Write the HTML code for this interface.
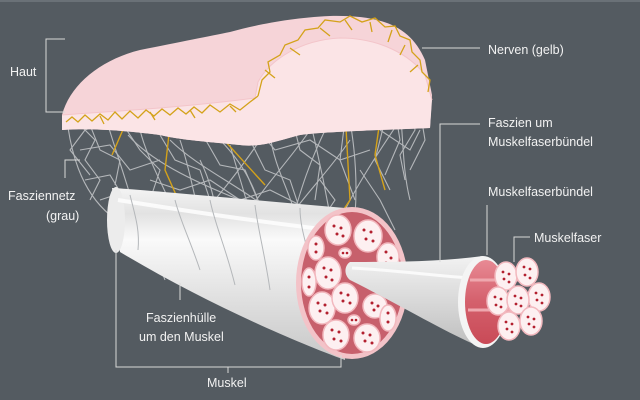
<!DOCTYPE html>
<html><head><meta charset="utf-8"><style>
html,body{margin:0;padding:0;background:#545b61;}
svg{display:block;}
text{font-family:"Liberation Sans",sans-serif;font-size:12.5px;fill:#f2f2f2;}
</style></head><body>
<svg width="640" height="400" viewBox="0 0 640 400" xmlns="http://www.w3.org/2000/svg">
<rect width="640" height="400" fill="#545b61"/>
<rect width="640" height="2" fill="#6a7177"/>
<defs>
<linearGradient id="tube" x1="0" y1="0" x2="0" y2="1">
<stop offset="0" stop-color="#f4f4f4"/><stop offset="0.15" stop-color="#e2e2e2"/><stop offset="0.3" stop-color="#fafafa"/><stop offset="0.7" stop-color="#dcdcdc"/><stop offset="1" stop-color="#c8c8c8"/>
</linearGradient>
<linearGradient id="cone" x1="0" y1="0" x2="0" y2="1">
<stop offset="0" stop-color="#f2f2f2"/><stop offset="0.5" stop-color="#d8d8d8"/><stop offset="1" stop-color="#bdbdbd"/>
</linearGradient>
<linearGradient id="red" x1="0" y1="0" x2="0" y2="1">
<stop offset="0" stop-color="#e88a94"/><stop offset="0.5" stop-color="#d4606c"/><stop offset="1" stop-color="#c94a57"/>
</linearGradient>
</defs>

<!-- fascia network -->
<g fill="none" stroke="#b4b7ba" stroke-width="1.1">
<path d="M66 112 C70 150 80 190 110 215"/>
<path d="M75 120 L95 140 L85 160 L100 180 L90 200"/>
<path d="M90 125 L100 150 L120 160 L115 185"/>
<path d="M105 115 C115 150 130 190 140 230"/>
<path d="M120 120 L140 150 L160 170 L150 200 L170 225"/>
<path d="M80 150 L110 145 L130 170 L160 160"/>
<path d="M140 130 C150 170 175 200 190 260"/>
<path d="M160 135 L175 160 L200 170 L210 200 L230 215"/>
<path d="M180 140 C190 170 195 200 205 240"/>
<path d="M200 130 L220 165 L245 170 L260 205"/>
<path d="M230 145 C240 180 250 210 260 250"/>
<path d="M250 140 L265 170 L290 180 L300 210"/>
<path d="M270 135 C275 170 290 190 300 230"/>
<path d="M290 110 L300 150 L320 165 L315 200"/>
<path d="M300 80 C310 120 320 160 330 215"/>
<path d="M320 60 L325 100 L345 120 L340 160 L355 200"/>
<path d="M340 60 C345 100 360 150 355 215"/>
<path d="M360 60 L370 100 L385 120 L375 160 L390 190"/>
<path d="M375 75 L395 110 L400 140 L385 175"/>
<path d="M395 80 C405 120 400 160 410 200"/>
<path d="M410 90 L415 130 L400 155 L405 180"/>
<path d="M420 110 L425 140 L410 170"/>
<path d="M100 200 L130 190 L160 210 L190 195 L220 215"/>
<path d="M150 180 L180 190 L210 180 L240 200 L270 190 L300 205"/>
<path d="M250 120 L275 150 L310 140 L340 160 L370 150"/>
<path d="M270 100 L300 120 L330 100 L360 115 L390 95"/>
<path d="M160 230 C190 220 230 225 260 245"/>
<path d="M110 120 L85 130 L70 150 L90 175"/>
<path d="M200 160 C220 200 215 230 230 270"/>
<path d="M220 140 C240 160 270 200 265 260"/>
<path d="M330 120 C310 160 300 190 290 230"/>
<path d="M360 170 L380 200 L395 230"/>
<path d="M145 240 C150 255 160 265 165 280"/>
<path d="M180 240 C185 260 190 270 200 280"/>
<path d="M235 235 C240 255 245 265 255 285"/>
<path d="M128 135 C150 160 190 180 240 200"/>
<path d="M170 140 C200 170 250 190 280 220"/>
<path d="M260 140 C240 170 215 200 190 230"/>
<path d="M310 130 C290 160 260 190 240 225"/>
<path d="M350 140 C330 170 300 200 280 230"/>
<path d="M400 120 C380 150 360 180 345 210"/>
<path d="M85 180 L110 175 L125 200 L140 195"/>
<path d="M380 130 L410 150 L420 130"/>
<path d="M320 180 L335 200 L325 215"/>
</g>
<!-- nerves below skin -->
<g fill="none" stroke="#d4a21a" stroke-width="1.4">
<path d="M125 125 L112 155"/>
<path d="M170 125 L165 170 L185 215"/>
<path d="M215 130 L265 185"/>
<path d="M295 70 L300 125"/>
<path d="M355 35 L345 110 L350 200 L310 260"/>
<path d="M385 85 L375 155 L385 190"/>
</g>

<!-- skin -->
<path d="M62 115 C70 85 100 60 140 50 C180 42 210 36 230 32 C260 24 290 18 330 16 C380 15 410 25 425 60 L432 95 L430 128 C380 130 320 132 300 135 C280 140 260 148 240 145 C210 142 180 140 160 135 C120 130 90 128 62 130 Z" fill="#f6d4d8"/>
<path d="M62 115 C100 112 180 108 255 98 L258 82 C270 60 300 40 340 38 C380 38 410 55 425 75 L432 100 L430 128 C380 130 320 132 300 135 C280 140 260 148 240 145 C210 142 180 140 160 135 C120 130 90 128 62 130 Z" fill="#fbe4e6"/>
<path d="M62 115 C100 112 180 108 255 98 L258 82 C270 60 300 40 340 38 C380 38 410 55 425 75 L432 100" fill="none" stroke="#f3c5ca" stroke-width="1"/>
<g fill="none" stroke="#d4a21a" stroke-width="1.3">
<path d="M66 122 L72 117 L78 122 L85 115 L92 121 L100 114 L108 120 L115 112 L122 119 L130 111 L138 118 L146 110 L154 116 L162 109 L170 115 L178 108 L186 114 L194 107 L202 113 L210 105 L220 112 L230 104 L240 110 L250 102 L258 96"/>
<path d="M258 96 L262 80 L270 72 L268 62 L280 55 L285 45 L298 40 L305 30 L318 28 L325 20 L340 22 L350 16 L362 22 L375 18 L385 27 L395 26 L400 36 L410 40 L412 52 L420 60 L422 72 L430 80 L428 92"/>
<path d="M265 70 L275 78 M290 48 L300 55 M320 28 L330 36 M345 20 L352 30 M370 22 L372 32 M392 30 L388 42 M405 45 L400 55 M418 65 L410 72 M150 112 L155 120 M190 110 L195 118 M230 106 L236 112 M100 116 L104 124"/>
</g>

<!-- muscle tube -->
<path d="M112 188 C150 190 250 200 345 208 L345 360 C290 340 200 300 120 252 Z" fill="url(#tube)"/>
<ellipse cx="116" cy="220" rx="9" ry="33" fill="#ececec"/>
<path d="M118 200 C180 210 260 222 330 230" stroke="#ffffff" stroke-width="4" fill="none" opacity="0.8"/>
<g fill="none" stroke="#b4b7ba" stroke-width="1">
<path d="M130 195 C135 215 140 230 138 250"/>
<path d="M175 200 C180 220 190 240 200 270"/>
<path d="M210 200 C215 225 225 245 235 285"/>
<path d="M255 205 C258 230 265 255 270 290"/>
<path d="M300 208 C300 225 305 240 310 260"/>
<path d="M340 210 C330 225 320 240 315 250"/>
</g>
<path d="M312 260 L330 215" stroke="#d4a21a" stroke-width="1.4" fill="none"/>

<!-- cross section -->
<ellipse cx="352" cy="283" rx="56" ry="76" fill="#f3c3c8"/>
<ellipse cx="352" cy="283" rx="51" ry="71" fill="#c7606c"/>
<g fill="#fdf0f1" stroke="#f2b8be" stroke-width="1.5">
<ellipse cx="338" cy="230" rx="13" ry="15"/>
<ellipse cx="368" cy="236" rx="14" ry="16"/>
<ellipse cx="316" cy="248" rx="8" ry="12"/>
<ellipse cx="345" cy="253" rx="6" ry="5"/>
<ellipse cx="388" cy="257" rx="11" ry="14"/>
<ellipse cx="328" cy="273" rx="13" ry="16"/>
<ellipse cx="309" cy="282" rx="7" ry="14"/>
<ellipse cx="322" cy="308" rx="13" ry="16"/>
<ellipse cx="345" cy="298" rx="13" ry="15"/>
<ellipse cx="375" cy="306" rx="12" ry="12"/>
<ellipse cx="354" cy="320" rx="6" ry="5"/>
<ellipse cx="388" cy="318" rx="8" ry="13"/>
<ellipse cx="336" cy="335" rx="13" ry="15"/>
<ellipse cx="367" cy="338" rx="13" ry="14"/>
</g>
<g fill="#b3202f">
<circle cx="334" cy="226" r="1.5"/><circle cx="341" cy="228" r="1.5"/><circle cx="337" cy="234" r="1.5"/><circle cx="343" cy="236" r="1.5"/>
<circle cx="364" cy="230" r="1.5"/><circle cx="371" cy="232" r="1.5"/><circle cx="366" cy="239" r="1.5"/><circle cx="373" cy="241" r="1.5"/>
<circle cx="316" cy="244" r="1.5"/><circle cx="316" cy="252" r="1.5"/>
<circle cx="343" cy="253" r="1.3"/><circle cx="347" cy="253" r="1.3"/>
<circle cx="386" cy="252" r="1.5"/><circle cx="391" cy="258" r="1.5"/><circle cx="386" cy="263" r="1.5"/>
<circle cx="324" cy="268" r="1.5"/><circle cx="331" cy="270" r="1.5"/><circle cx="326" cy="277" r="1.5"/><circle cx="332" cy="280" r="1.5"/>
<circle cx="309" cy="277" r="1.5"/><circle cx="309" cy="287" r="1.5"/>
<circle cx="318" cy="303" r="1.5"/><circle cx="325" cy="305" r="1.5"/><circle cx="320" cy="311" r="1.5"/><circle cx="327" cy="313" r="1.5"/>
<circle cx="341" cy="293" r="1.5"/><circle cx="348" cy="295" r="1.5"/><circle cx="343" cy="301" r="1.5"/><circle cx="350" cy="303" r="1.5"/>
<circle cx="372" cy="303" r="1.5"/><circle cx="378" cy="306" r="1.5"/><circle cx="374" cy="310" r="1.5"/>
<circle cx="352" cy="320" r="1.3"/><circle cx="356" cy="320" r="1.3"/>
<circle cx="388" cy="313" r="1.5"/><circle cx="388" cy="322" r="1.5"/>
<circle cx="332" cy="330" r="1.5"/><circle cx="339" cy="332" r="1.5"/><circle cx="334" cy="339" r="1.5"/><circle cx="341" cy="341" r="1.5"/>
<circle cx="363" cy="333" r="1.5"/><circle cx="370" cy="335" r="1.5"/><circle cx="365" cy="341" r="1.5"/><circle cx="372" cy="343" r="1.5"/>
</g>

<!-- bundle cone -->
<path d="M350 262 C345 265 343 274 350 280 C400 305 450 335 483 348 L483 256 C440 262 390 262 350 262 Z" fill="url(#cone)"/>
<path d="M352 268 C390 270 430 275 470 278" stroke="#fafafa" stroke-width="3" fill="none"/>
<ellipse cx="483" cy="302" rx="25" ry="46" fill="#f4f4f4"/>
<ellipse cx="486" cy="302" rx="21" ry="42" fill="url(#red)"/>
<path d="M470 280 L520 280 M468 310 L520 310" stroke="#eea7ae" stroke-width="3" fill="none"/>
<g fill="#fdf0f1" stroke="#f2b8be" stroke-width="1.5">
<ellipse cx="506" cy="276" rx="11" ry="14"/>
<ellipse cx="527" cy="272" rx="11" ry="14"/>
<ellipse cx="539" cy="297" rx="11" ry="14"/>
<ellipse cx="498" cy="301" rx="11" ry="14"/>
<ellipse cx="518" cy="300" rx="11" ry="14"/>
<ellipse cx="509" cy="326" rx="11" ry="14"/>
<ellipse cx="531" cy="321" rx="11" ry="14"/>
</g>
<g fill="#b3202f">
<circle cx="503" cy="272" r="1.4"/><circle cx="509" cy="274" r="1.4"/><circle cx="504" cy="279" r="1.4"/><circle cx="509" cy="282" r="1.4"/>
<circle cx="524" cy="267" r="1.4"/><circle cx="530" cy="269" r="1.4"/><circle cx="525" cy="275" r="1.4"/><circle cx="530" cy="278" r="1.4"/>
<circle cx="536" cy="293" r="1.4"/><circle cx="542" cy="295" r="1.4"/><circle cx="537" cy="300" r="1.4"/><circle cx="542" cy="303" r="1.4"/>
<circle cx="495" cy="297" r="1.4"/><circle cx="501" cy="299" r="1.4"/><circle cx="496" cy="305" r="1.4"/><circle cx="501" cy="307" r="1.4"/>
<circle cx="515" cy="296" r="1.4"/><circle cx="521" cy="298" r="1.4"/><circle cx="516" cy="304" r="1.4"/><circle cx="521" cy="306" r="1.4"/>
<circle cx="506" cy="322" r="1.4"/><circle cx="512" cy="324" r="1.4"/><circle cx="507" cy="329" r="1.4"/><circle cx="512" cy="332" r="1.4"/>
<circle cx="528" cy="317" r="1.4"/><circle cx="534" cy="319" r="1.4"/><circle cx="529" cy="324" r="1.4"/><circle cx="534" cy="327" r="1.4"/>
</g>

<!-- leader lines -->
<g fill="none" stroke="#d8d8d8" stroke-width="1">
<path d="M65 39 L46 39 L46 112 L65 112"/>
<path d="M422 48 L480 48"/>
<path d="M80 160 L65 160 L65 178"/>
<path d="M480 124 L440 124 L440 262"/>
<path d="M487 205 L487 255"/>
<path d="M530 237 L514 237 L514 262"/>
<path d="M180 283 L180 300"/>
<path d="M116 250 L116 367 L341 367 L341 355"/>
<path d="M228 367 L228 373"/>
</g>
<text x="10" y="76">Haut</text>
<text x="488" y="54">Nerven (gelb)</text>
<text x="488" y="127">Faszien um</text>
<text x="488" y="146">Muskelfaserbündel</text>
<text x="488" y="196">Muskelfaserbündel</text>
<text x="534" y="242">Muskelfaser</text>
<text x="8" y="200">Fasziennetz</text>
<text x="46" y="220">(grau)</text>
<text x="146" y="322">Faszienhülle</text>
<text x="139" y="341">um den Muskel</text>
<text x="207" y="387">Muskel</text>
</svg>
</body></html>
